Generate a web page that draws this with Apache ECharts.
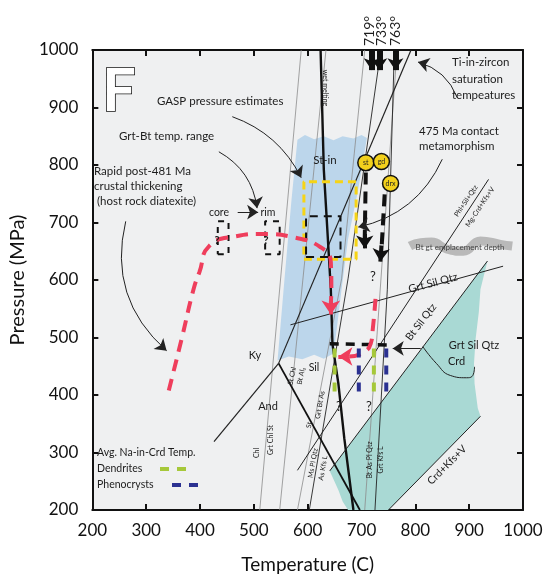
<!DOCTYPE html>
<html>
<head>
<meta charset="utf-8">
<script src="https://cdn.jsdelivr.net/npm/echarts@6/dist/echarts.min.js"></script>
<style>
  html, body { margin: 0; padding: 0; background: #fff; }
  #chart { width: 552px; height: 579px; }
</style>
</head>
<body>
<div id="chart"></div>
<script>
// P-T diagram, temperature (C) vs pressure (MPa)
var tempRange = [200, 1000];
var presRange = [200, 1000];

// phase fields
var blueField = [[581, 844], [595, 852], [612, 845], [630, 850], [648, 843], [665, 850], [685, 846], [700, 852], [710, 847],
  [694, 758], [675, 671], [663, 584], [654, 515], [648, 472], [630, 463], [612, 470], [590, 462], [565, 467], [544, 460],
  [557, 602], [570, 740]];
var tealField = [[934, 633], [921, 584], [918, 545], [912, 498], [909, 455], [910, 420], [916, 377], [921, 363],
  [750, 200], [675, 200], [665, 215], [657, 235], [641, 268]];
var emplacementBand = [[790, 659], [810, 665], [830, 666], [858, 654], [889, 650], [921, 668], [958, 662], [980, 659]];

// reaction lines
var chlLine = [[511, 200], [588, 1000]];
var grtChlStLine = [[548, 200], [634, 1000]];
var stChlLine = [[581, 200], [663, 602], [706, 1000]];
var grayLine = [[706, 200], [766, 1000]];
var grtBtAsLine = [[603, 200], [675, 602], [736, 1000]];
var btAsPlQtzLine = [[725, 200], [748, 584], [761, 1000]];
var kySil = [[546, 455], [792, 1000]];
var andSil = [[546, 455], [697, 200]];
var kyAnd = [[546, 455], [426, 319]];
var wetMelting = [[624, 1000], [630, 792], [643, 584], [646, 489], [657, 420], [668, 325], [685, 200]];
var grtSilQtz = [[568, 522], [963, 624]];
var phlSilQtz = [[581, 269], [936, 775]];
var btSilQtz = [[641, 268], [934, 633]];
var crdKfsV = [[750, 200], [921, 363]];
var crdCurve = [[814, 484], [839, 455], [865, 434], [895, 430], [905, 432], [910, 449]];

// estimates (Tmin, Tmax, Pmin, Pmax)
var gaspBox = [593, 690, 636, 771];
var grtBtBox = [597, 661, 640, 711];
var coreBox = [433, 453, 645, 702];
var rimBox = [521, 548, 645, 702];

// P-T paths
var redPath1 = [[342, 408], [366, 498], [388, 584], [399, 614], [417, 659], [466, 676], [515, 680], [575, 674],
  [624, 657], [643, 631], [644, 584], [643, 560]];
var redPath2 = [[726, 567], [721, 515], [717, 489], [703, 474], [675, 467], [668, 467]];
var stPath = [[708, 787], [706, 672]];
var drxPath = [[743, 749], [737, 652]];
var naLine = [[641, 489], [756, 487]];

// Na-in-Crd temperatures
var dendriteT = [650, 723];
var phenocrystT = [695, 746];
var naP = [406, 481];

// Ti-in-zircon saturation temperatures
var zirconT = [719, 733, 763];

// samples
var sampleNames = ['st', 'gd', 'drx'];
var sampleT = [708, 737, 754];
var sampleP = [804, 806, 768];

function seg(pts, color, width, dash, z, smooth) {
  return { type: 'line', data: pts, symbol: 'none', silent: true, z: z || 3, smooth: smooth || false,
    lineStyle: { color: color, width: width, type: dash || 'solid', cap: 'butt' } };
}
function box(b, color, width, dash) {
  return seg([[b[0], b[2]], [b[1], b[2]], [b[1], b[3]], [b[0], b[3]], [b[0], b[2]]], color, width, dash, 5);
}
function poly(pts, color, z) {
  return { type: 'custom', silent: true, z: z || 1, data: [pts[0]],
    renderItem: function (params, api) {
      return { type: 'polygon', shape: { points: pts.map(function (d) { return api.coord(d); }) },
        style: { fill: color } };
    } };
}
function arrows(items, color, width, size, z) {
  return { type: 'lines', coordinateSystem: 'cartesian2d', silent: true, z: z || 6,
    symbol: ['none', 'arrow'], symbolSize: size,
    lineStyle: { color: color, width: width, opacity: 1 },
    data: items.map(function (it) { return { coords: it[0], lineStyle: { curveness: it[1] || 0 } }; }) };
}

var series = [
  poly(blueField, '#bcd6eb', 1),
  poly(tealField, '#a9d9d4', 1),
  seg(emplacementBand, '#b9b9b9', 9, 'solid', 2, true),
  seg(chlLine, '#8c8c8c', 0.8),
  seg(grtChlStLine, '#8c8c8c', 0.8),
  seg(stChlLine, '#8c8c8c', 0.8),
  seg(grayLine, '#8c8c8c', 0.8),
  seg(grtBtAsLine, '#222', 0.9),
  seg(btAsPlQtzLine, '#222', 0.9),
  seg(kySil, '#222', 1.2),
  seg(andSil, '#111', 1.8),
  seg(kyAnd, '#222', 1.2),
  seg(wetMelting, '#111', 2.4),
  seg(grtSilQtz, '#222', 1),
  seg(phlSilQtz, '#222', 1),
  seg(btSilQtz, '#222', 1),
  seg(crdKfsV, '#222', 1),
  seg(crdCurve, '#222', 1, 'solid', 3, true),
  box(gaspBox, '#f6d416', 3, [8, 5]),
  box(grtBtBox, '#111', 2, [8, 6]),
  box(coreBox, '#111', 2, [6, 6]),
  box(rimBox, '#111', 2, [6, 6]),
  seg(naLine, '#111', 3.5, [9, 7], 5),
  seg(redPath1, '#ef3e5c', 4, [12, 8], 6, true),
  seg(redPath2, '#ef3e5c', 4, [12, 8], 6, true),
  seg(stPath, '#111', 4, [12, 7], 6),
  seg(drxPath, '#111', 4, [12, 7], 6)
];
dendriteT.forEach(function (t) { series.push(seg([[t, naP[1]], [t, naP[0]]], '#a6c83a', 4, [9, 8], 6)); });
phenocrystT.forEach(function (t) { series.push(seg([[t, naP[1]], [t, naP[0]]], '#2b3191', 4, [9, 8], 6)); });

// arrowheads on paths
series.push(arrows([
  [[[643, 566], [643, 540]]],
  [[[672, 467], [657, 467]]]
], '#ef3e5c', 4, [16, 14], 7));
series.push(arrows([
  [[[706, 680], [706, 655]]],
  [[[737, 660], [735, 632]]]
], '#111', 4, [16, 13], 7));
series.push(arrows(zirconT.map(function (t) { return [[[t, 1000], [t, 965]]]; }), '#111', 6, [16, 12], 7));

// annotation leaders
series.push(arrows([
  [[[460, 884], [588, 778]], 0.2],
  [[[435, 823], [506, 725]], 0.25],
  [[[262, 702], [338, 477]], -0.3],
  [[[850, 810], [694, 692]], 0.25],
  [[[878, 917], [805, 979]], -0.25],
  [[[810, 481], [758, 481]], 0],
  [[[470, 718], [508, 718]], 0]
], '#222', 1, [9, 11], 8));

series.push({
  type: 'scatter', z: 9, silent: true, symbolSize: 16,
  data: sampleNames.map(function (n, i) { return { name: n, value: [sampleT[i], sampleP[i]] }; }),
  itemStyle: { color: '#f2d01c', borderColor: '#111', borderWidth: 1.5, opacity: 1 },
  label: { show: true, position: 'inside', formatter: '{b}', fontSize: 7, fontFamily: 'Lato', color: '#222' }
});

function txt(s, x, y, size, o) {
  o = o || {};
  return { type: 'text', x: x, y: y, rotation: (o.rot || 0) * Math.PI / 180, silent: true, z: 100,
    style: { text: s, fill: o.color || '#1c1c1c', font: (o.weight || 'normal') + ' ' + size + 'px Lato',
      align: o.align || 'left', verticalAlign: 'middle', textAlign: o.align || 'left', textVerticalAlign: 'middle' } };
}
function dash(x1, x2, y, color) {
  return { type: 'line', silent: true, z: 100, shape: { x1: x1, y1: y, x2: x2, y2: y },
    style: { stroke: color, lineWidth: 4, lineDash: [9, 8] } };
}

var graphics = [
  { type: 'text', x: 102, y: 62, silent: true, z: 100,
    style: { text: 'F', font: 'bold 60px Lato', fill: '#fff', stroke: '#111', lineWidth: 1.6, align: 'left', verticalAlign: 'top' } },
  txt('719\u00b0', 369, 46, 14, { rot: 90 }),
  txt('733\u00b0', 381, 46, 14, { rot: 90 }),
  txt('763\u00b0', 395, 46, 14, { rot: 90 }),
  txt('GASP pressure estimates', 157, 101, 11.5),
  txt('Grt-Bt temp. range', 119, 136, 11.5),
  txt('Rapid post-481 Ma', 94, 171, 11.5),
  txt('crustal thickening', 94, 186, 11.5),
  txt('(host rock diatexite)', 97, 201, 11.5),
  txt('core', 219, 213, 10.5, { align: 'center' }),
  txt('rim', 268, 213, 10.5, { align: 'center' }),
  txt('?', 217, 240, 11, { align: 'center', weight: 'bold' }),
  txt('?', 266, 240, 11, { align: 'center', weight: 'bold' }),
  txt('St-in', 325, 160, 11.5, { align: 'center' }),
  txt('475 Ma contact', 419, 131, 11.5),
  txt('metamorphism', 419, 146, 11.5),
  txt('Ti-in-zircon', 452, 62, 11.5),
  txt('saturation', 452, 79, 11.5),
  txt('tempeatures', 452, 95, 11.5),
  txt('wet melting', 325, 88, 7, { align: 'center', rot: -90 }),
  txt('Ky', 255, 355, 11, { align: 'center' }),
  txt('And', 268, 406, 11, { align: 'center' }),
  txt('Sil', 314, 368, 10.5, { align: 'center' }),
  txt('St Chl', 292, 376, 7, { align: 'center', rot: 78 }),
  txt('Bt Al\u2082', 301, 376, 7, { align: 'center', rot: 78 }),
  txt('St', 309, 425, 7, { align: 'center', rot: 80 }),
  txt('Grt Bt As', 320, 405, 7, { align: 'center', rot: 80 }),
  txt('Ms Pl Qtz', 313, 463, 7, { align: 'center', rot: 80 }),
  txt('As Kfs L', 323, 468, 7, { align: 'center', rot: 80 }),
  txt('Chl', 257, 453, 7, { align: 'center', rot: 90 }),
  txt('Grt Chl St', 271, 440, 7, { align: 'center', rot: 90 }),
  txt('Bt As Pl Qtz', 370, 460, 7, { align: 'center', rot: 90 }),
  txt('Grt Kfs L', 381, 460, 7, { align: 'center', rot: 90 }),
  txt('?', 373, 277, 13, { align: 'center' }),
  txt('?', 339, 407, 13, { align: 'center' }),
  txt('?', 369, 407, 13, { align: 'center' }),
  txt('Grt Sil Qtz', 433, 283, 11, { align: 'center', rot: 15 }),
  txt('Bt Sil Qtz', 421, 322, 10.5, { align: 'center', rot: 52.6 }),
  txt('Grt Sil Qtz', 474, 345, 11, { align: 'center' }),
  txt('Crd', 448, 361, 11),
  txt('Crd+Kfs+V', 447, 465, 10.5, { align: 'center', rot: 45 }),
  txt('Phl+Sil+Qtz', 466, 201, 7, { align: 'center', rot: 56 }),
  txt('Mg-Crd+Kfs+V', 480, 207, 7, { align: 'center', rot: 56 }),
  txt('Bt gt emplacement depth', 460, 247, 8, { align: 'center', color: '#444' }),
  txt('Avg. Na-in-Crd Temp.', 97, 453, 10.5),
  txt('Dendrites', 97, 469, 10.5),
  txt('Phenocrysts', 97, 485, 10.5),
  dash(160, 190, 469, '#a6c83a'),
  dash(172, 204, 485, '#2b3191')
];

var tickStyle = { inside: true, length: 6, lineStyle: { color: '#111', width: 2 } };
var lineStyle = { show: true, lineStyle: { color: '#111', width: 2 } };
function plain(v) { return String(v); }

var chart = echarts.init(document.getElementById('chart'), null, { renderer: 'canvas' });
chart.setOption({
  animation: false,
  backgroundColor: '#fff',
  grid: { left: 84, right: 29, top: 50, bottom: 67, show: true, backgroundColor: '#eff0f1', borderWidth: 0 },
  xAxis: [
    { type: 'value', min: tempRange[0], max: tempRange[1], interval: 100, position: 'bottom',
      axisLine: lineStyle, axisTick: tickStyle, splitLine: { show: false },
      axisLabel: { fontSize: 17, fontFamily: 'Lato', color: '#111', margin: 12, formatter: plain },
      name: 'Temperature (C)', nameLocation: 'middle', nameGap: 45,
      nameTextStyle: { fontSize: 19, fontFamily: 'Lato', color: '#111' } },
    { type: 'value', min: tempRange[0], max: tempRange[1], interval: 100, position: 'top',
      axisLine: lineStyle, axisTick: tickStyle, splitLine: { show: false }, axisLabel: { show: false } }
  ],
  yAxis: [
    { type: 'value', min: presRange[0], max: presRange[1], interval: 100, position: 'left',
      axisLine: lineStyle, axisTick: tickStyle, splitLine: { show: false },
      axisLabel: { fontSize: 17, fontFamily: 'Lato', color: '#111', margin: 14, formatter: plain },
      name: 'Pressure (MPa)', nameLocation: 'middle', nameGap: 54, nameRotate: 90,
      nameTextStyle: { fontSize: 20, fontFamily: 'Lato', color: '#111' } },
    { type: 'value', min: presRange[0], max: presRange[1], interval: 100, position: 'right',
      axisLine: lineStyle, axisTick: tickStyle, splitLine: { show: false }, axisLabel: { show: false } }
  ],
  series: series,
  graphic: graphics
});
</script>
</body>
</html>
